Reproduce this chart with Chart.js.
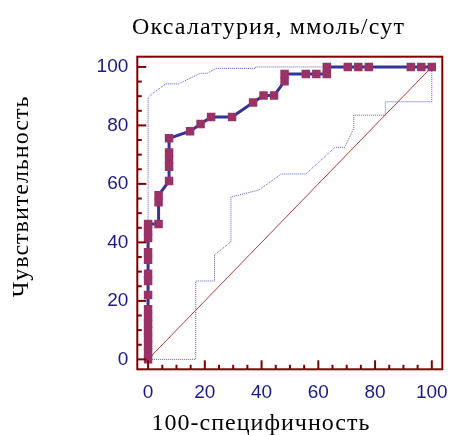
<!DOCTYPE html>
<html>
<head>
<meta charset="utf-8">
<script src="https://cdn.jsdelivr.net/npm/chart.js@4"></script>
<style>
  html, body { margin: 0; padding: 0; background: #fff; }
  #wrap { width: 460px; height: 435px; }
</style>
</head>
<body>
<div id="wrap"><canvas id="c" width="460" height="435"></canvas></div>
<script>
// Text
const chartTitle = 'Оксалатурия, ммоль/сут';
const xTitle = '100-специфичность';
const yTitle = 'Чувствительность';

// Axis tick labels
const tickValues = [0, 20, 40, 60, 80, 100];

// ROC curve: 100-specificity (x) and sensitivity (y), %
const rocX = [0, 0, 0, 0, 0, 0, 0, 0, 0, 0, 0, 0, 0, 0, 0, 0,
  3.7, 3.7, 3.7,
  7.4, 7.4, 7.4, 7.4, 7.4,
  14.8, 18.5, 22.2, 29.6, 37.0, 40.7, 44.4,
  48.1, 48.1, 55.6, 59.3, 63.0, 63.0,
  70.4, 74.1, 77.8, 92.6, 96.3, 100];
const rocY = [0, 2.4, 4.9, 7.3, 9.8, 12.2, 14.6, 17.1, 22.0, 26.8, 29.3, 34.1, 36.6, 41.5, 43.9, 46.3,
  46.3, 53.7, 56.1,
  61.0, 65.9, 68.3, 70.7, 75.6,
  78.0, 80.5, 82.9, 82.9, 87.8, 90.2, 90.2,
  95.1, 97.6, 97.6, 97.6, 97.6, 100,
  100, 100, 100, 100, 100, 100];

// 95% confidence bounds
const upperX = [0, 0, 1.7, 6.2, 10.7, 18.3, 20.8, 24.0, 37.8, 37.8, 100];
const upperY = [0, 89.3, 91.0, 94.2, 94.2, 97.8, 97.8, 99.5, 99.5, 100, 100];
const lowerX = [0, 16.8, 16.8, 23.4, 23.4, 29.2, 29.2, 39.0, 47.0, 55.6, 65.9, 69.3, 72.5, 72.5, 83.6, 83.6, 100, 100];
const lowerY = [0, 0, 26.8, 26.8, 35.7, 40.2, 55.5, 57.9, 63.4, 63.4, 72.5, 72.5, 79.0, 83.5, 83.5, 88.1, 88.1, 100];

// Reference diagonal
const diagX = [0, 100];
const diagY = [0, 100];

const pts = (xs, ys) => xs.map((x, i) => ({ x, y: ys[i] }));

const FRAME = '#800000';
const TICK_TEXT = '#1a1a88';

// Box frame, inward tick marks and titles
const framePlugin = {
  id: 'framePlugin',
  afterDraw(chart) {
    const { ctx, chartArea: a, scales: { x, y } } = chart;
    ctx.save();
    ctx.strokeStyle = FRAME;
    ctx.lineWidth = 2;
    for (let v = 0; v <= 100; v += 5) {
      const len = v % 20 === 0 ? 9 : 4.5;
      const px = x.getPixelForValue(v);
      ctx.beginPath(); ctx.moveTo(px, a.bottom); ctx.lineTo(px, a.bottom - len); ctx.stroke();
      const py = y.getPixelForValue(v);
      ctx.beginPath(); ctx.moveTo(a.left, py); ctx.lineTo(a.left + len, py); ctx.stroke();
    }
    ctx.strokeRect(a.left, a.top, a.right - a.left, a.bottom - a.top);

    ctx.fillStyle = '#000';
    ctx.font = '24px "Liberation Serif"';
    ctx.letterSpacing = '1.2px';
    ctx.textAlign = 'center';
    ctx.textBaseline = 'alphabetic';
    ctx.fillText(chartTitle, 268.5, 33.5);
    ctx.letterSpacing = '1px';
    ctx.fillText(xTitle, 261, 429.5);
    ctx.translate(27.6, 196.5);
    ctx.rotate(-Math.PI / 2);
    ctx.fillText(yTitle, 0, 0);
    ctx.restore();
  }
};

const tickFont = { family: '"Liberation Sans", Arial, sans-serif', size: 19 };

new Chart(document.getElementById('c'), {
  type: 'scatter',
  data: {
    datasets: [
      {
        data: pts(rocX, rocY),
        showLine: true,
        borderColor: '#333399',
        borderWidth: 3,
        pointStyle: 'rect',
        pointRadius: 6,
        pointBackgroundColor: '#993366',
        pointBorderColor: '#993366',
        pointBorderWidth: 0,
        tension: 0
      },
      {
        data: pts(upperX, upperY),
        showLine: true,
        borderColor: '#5a5ac0',
        borderWidth: 1,
        borderDash: [1, 1],
        pointRadius: 0
      },
      {
        data: pts(lowerX, lowerY),
        showLine: true,
        borderColor: '#5a5ac0',
        borderWidth: 1,
        borderDash: [1, 1],
        pointRadius: 0
      },
      {
        data: pts(diagX, diagY),
        showLine: true,
        borderColor: '#b03a3a',
        borderWidth: 1,
        pointRadius: 0
      }
    ]
  },
  options: {
    responsive: false,
    animation: false,
    devicePixelRatio: 1,
    layout: { padding: { top: 56.7, right: 10, left: 0, bottom: 0 } },
    plugins: { legend: { display: false }, tooltip: { enabled: false }, title: { display: false } },
    scales: {
      x: {
        type: 'linear',
        min: -3.8,
        max: 103.7,
        afterBuildTicks: s => { s.ticks = tickValues.map(v => ({ value: v })); },
        afterFit: s => { s.height = 65.7; },
        ticks: { color: TICK_TEXT, font: tickFont, padding: 12, maxRotation: 0, autoSkip: false },
        grid: { display: false, drawTicks: false },
        border: { display: false }
      },
      y: {
        type: 'linear',
        min: -3.4,
        max: 103.5,
        afterBuildTicks: s => { s.ticks = tickValues.map(v => ({ value: v })); },
        afterFit: s => { s.width = 137.3; },
        ticks: { color: TICK_TEXT, font: tickFont, padding: 9, autoSkip: false },
        grid: { display: false, drawTicks: false },
        border: { display: false }
      }
    }
  },
  plugins: [framePlugin]
});
</script>
</body>
</html>
